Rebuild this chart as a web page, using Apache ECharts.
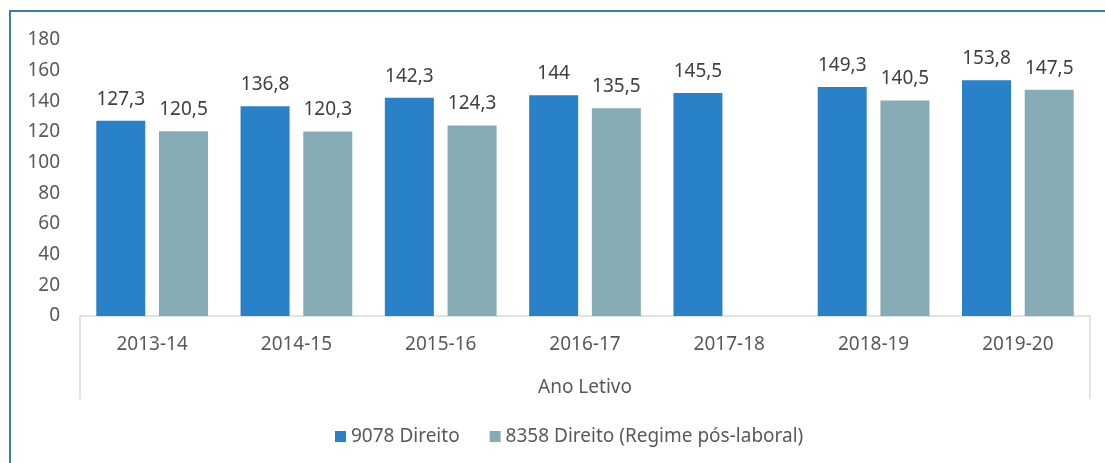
<!DOCTYPE html>
<html>
<head>
<meta charset="utf-8">
<script src="https://cdn.jsdelivr.net/npm/echarts@6/dist/echarts.min.js"></script>
<style>
html,body{margin:0;padding:0;background:#fff;}
#c{width:1105px;height:463px;}
</style>
</head>
<body>
<div id="c"></div>
<script>
var categories = ['2013-14','2014-15','2015-16','2016-17','2017-18','2018-19','2019-20'];
var seriesNames = ['9078 Direito','8358 Direito (Regime pós-laboral)'];
var direito = [127.3, 136.8, 142.3, 144, 145.5, 149.3, 153.8];
var posLaboral = [120.5, 120.3, 124.3, 135.5, null, 140.5, 147.5];
var axisTitle = ['Ano Letivo'];

var FONT = '"Noto Sans", sans-serif';
var FS = 19;
var chart = echarts.init(document.getElementById('c'), null, {renderer:'canvas'});
function fmt(p){ return String(p.value).replace('.', ','); }
var labelCfg = {show:true, position:'top', distance:12, color:'#404040', fontSize:FS, fontFamily:FONT, formatter:fmt};
chart.setOption({
  animation:false,
  textStyle:{fontFamily:FONT},
  graphic:[{type:'rect', shape:{x:10,y:11,width:1200,height:600}, style:{fill:'none', stroke:'#3a7ea3', lineWidth:2}, silent:true}],
  grid:{left:80, right:15, top:40, bottom:147},
  legend:{
    left:330, top:422, itemWidth:11, itemHeight:11, itemGap:30, itemStyle:{borderWidth:0}, icon:'rect',
    textStyle:{color:'#595959', fontSize:FS, fontFamily:FONT},
    data:seriesNames
  },
  xAxis:[{
    type:'category', data:categories,
    axisLine:{lineStyle:{color:'#d9d9d9', width:1.5}},
    axisTick:{show:false},
    axisLabel:{color:'#595959', fontSize:FS, fontFamily:FONT, margin:19}
  },{
    type:'category', data:axisTitle, position:'bottom',
    axisLine:{show:false},
    axisTick:{show:true, length:83, lineStyle:{color:'#d9d9d9', width:1.5}},
    axisLabel:{color:'#595959', fontSize:FS, fontFamily:FONT, margin:62}
  }],
  yAxis:{
    type:'value', min:0, max:180, interval:20,
    axisLine:{show:false}, axisTick:{show:false}, splitLine:{show:false},
    axisLabel:{color:'#595959', fontSize:FS, fontFamily:FONT, margin:20}
  },
  series:[{
    name:seriesNames[0], type:'bar', data:direito, barWidth:49, barGap:'28%',
    itemStyle:{color:'#2981c8'}, label:labelCfg
  },{
    name:seriesNames[1], type:'bar', data:posLaboral, barWidth:49,
    itemStyle:{color:'#85acb5'}, label:labelCfg
  }]
});
</script>
</body>
</html>
